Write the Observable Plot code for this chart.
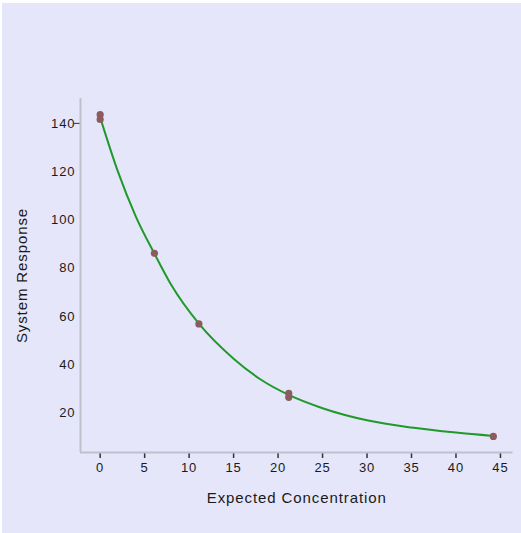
<!DOCTYPE html>
<html>
<head>
<meta charset="utf-8">
<script src="https://cdn.jsdelivr.net/npm/d3@7"></script>
<script src="https://cdn.jsdelivr.net/npm/@observablehq/plot@0.6"></script>
<style>
  html, body { margin: 0; padding: 0; background: #ffffff; overflow: hidden; }
  #panel { position: absolute; left: 2px; top: 3px; right: 0; bottom: 0; background: #e6e6fa; }
  #chart { position: absolute; left: 0; top: 0; }
  #chart svg { background: transparent; }
  #chart svg text { letter-spacing: 0.9px; }
</style>
</head>
<body>
<div id="panel"></div>
<div id="chart"></div>
<script>
// Measured data points (replicates at some concentrations)
const concentration = [0, 0, 6.1, 11.1, 21.2, 21.2, 44.2];
const response      = [143.6, 141.6, 86.2, 56.9, 28.2, 26.5, 10.3];

// Fitted curve
const curveX = [0, 2, 4, 6.1, 8, 11.1, 15, 18, 21.2, 25, 30, 35, 40, 44.2];
const curveY = [142.5, 120, 101.5, 86, 73, 57, 42.5, 34, 27.5, 22, 17, 14, 11.9, 10.5];

const xTicks = [0, 5, 10, 15, 20, 25, 30, 35, 40, 45];
const yTicks = [20, 40, 60, 80, 100, 120, 140];

const xDomain = [-2.21, 46.41];
const yDomain = [3.65, 150.3];

const points = concentration.map((c, i) => ({x: c, y: response[i]}));
const fit = curveX.map((c, i) => ({x: c, y: curveY[i]}));

const chart = Plot.plot({
  width: 521,
  height: 533,
  marginLeft: 80,
  marginRight: 8.5,
  marginTop: 98,
  marginBottom: 81,
  style: {fontFamily: "Liberation Sans, Arial, sans-serif", fontSize: "13px", color: "#1a1a1a", background: "transparent"},
  x: {domain: xDomain},
  y: {domain: yDomain},
  marks: [
    Plot.axisX(xTicks, {tickSize: 6, tickPadding: 4, stroke: "#333", strokeWidth: 1.5, fill: "#1a1a1a", fontSize: 13,
      label: null}),
    Plot.axisY(yTicks, {tickSize: 0, tickPadding: 5, fill: "#1a1a1a", fontSize: 13, label: null}),
    Plot.axisY([140], {tickSize: 6, tickPadding: 2, text: () => "", stroke: "#333", label: null}),
    Plot.axisX({ticks: [], label: "Expected Concentration", labelAnchor: "center", labelArrow: "none", labelOffset: 50, fontSize: 15, fill: "#1a1a1a"}),
    Plot.axisY({ticks: [], label: "System Response", labelAnchor: "center", labelArrow: "none", labelOffset: 64, fontSize: 15, fill: "#1a1a1a"}),
    Plot.ruleY([yDomain[0]], {stroke: "#c0c0cc", strokeWidth: 2}),
    Plot.ruleX([xDomain[0]], {stroke: "#c0c0cc", strokeWidth: 2}),
    Plot.line(fit, {x: "x", y: "y", stroke: "#1f9a2a", strokeWidth: 2, curve: "monotone-x"}),
    Plot.dot(points, {x: "x", y: "y", r: 3.6, fill: "#8b5b5e", stroke: "none"})
  ]
});
document.getElementById("chart").append(chart);
</script>
</body>
</html>
